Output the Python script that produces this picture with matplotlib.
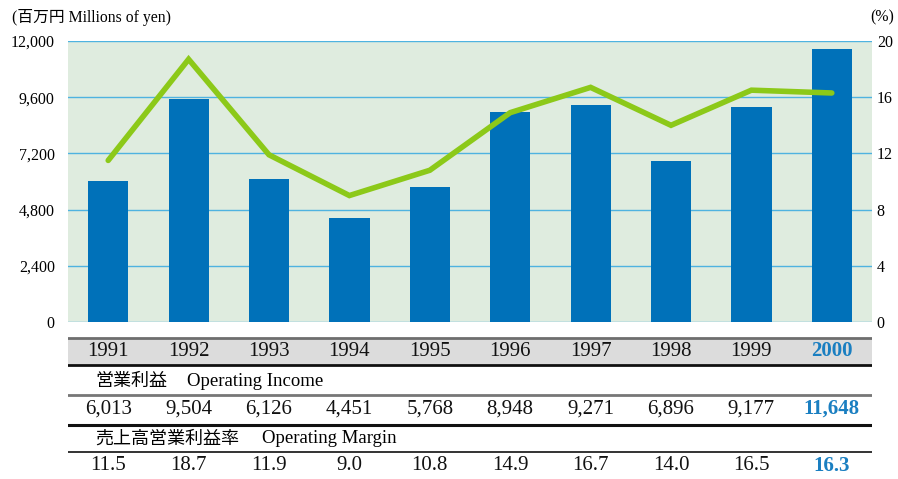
import numpy as np
import matplotlib
matplotlib.use("Agg")
import matplotlib.pyplot as plt

# data
years = ["1991", "1992", "1993", "1994", "1995", "1996", "1997", "1998", "1999", "2000"]
income = [6013, 9504, 6126, 4451, 5768, 8948, 9271, 6896, 9177, 11648]
margin = [11.5, 18.7, 11.9, 9.0, 10.8, 14.9, 16.7, 14.0, 16.5, 16.3]
left_ticks = [0, 2400, 4800, 7200, 9600, 12000]
right_ticks = [0, 4, 8, 12, 16, 20]

SERIF = ["Liberation Serif", "DejaVu Serif"]
CJK = ["Noto Sans CJK JP", "DejaVu Sans"]
MIX = ["Liberation Serif", "Noto Sans CJK JP"]

BLUE = "#0071b9"
GREEN = "#8cc919"
BG = "#dfecdf"
GRID = "#4fb3e0"
HL = "#1a7fc1"

W, H = 898, 479
fig = plt.figure(figsize=(W / 100, H / 100), dpi=100)

x0, x1 = 68, 872
y_top, y_bot = 41, 322
ax = fig.add_axes([x0 / W, 1 - y_bot / H, (x1 - x0) / W, (y_bot - y_top) / H])
ax.set_facecolor(BG)
x = np.arange(len(years))
ax.bar(x, income, width=0.5, color=BLUE, zorder=3)
ax.set_xlim(-0.5, len(years) - 0.5)
ax.set_ylim(0, 12000)
ax.set_yticks(left_ticks)
ax.set_yticklabels([f"{v:,}" for v in left_ticks], family=SERIF, fontsize=11.5)
ax.set_xticks([])
for v in left_ticks:
    ax.axhline(v, color=GRID, lw=1, zorder=1)
for s in ax.spines.values():
    s.set_visible(False)
ax.tick_params(axis="y", length=0, pad=9.5)

ax2 = ax.twinx()
ax2.plot(x, margin, color=GREEN, lw=4, solid_capstyle="round", solid_joinstyle="miter", zorder=5)
ax2.set_ylim(0, 20)
ax2.set_yticks(right_ticks)
ax2.set_yticklabels([str(v) for v in right_ticks], family=SERIF, fontsize=11.5)
ax2.tick_params(axis="y", length=0, pad=3.5)
for s in ax2.spines.values():
    s.set_visible(False)

fig.text(12 / W, 1 - 17 / H, "(百万円 Millions of yen)", family=MIX, fontsize=11.3, va="center", ha="left")
fig.text(894 / W, 1 - 17 / H, "(%)", family=SERIF, fontsize=11.3, va="center", ha="right")

# table below the chart, y in pixel coordinates
t = fig.add_axes([x0 / W, 0, (x1 - x0) / W, 1 - 330 / H])
t.set_xlim(-0.5, len(years) - 0.5)
t.set_ylim(H, 330)
t.axis("off")
t.axhspan(338, 365, color="#dcdcdc", zorder=0)
t.axhline(338, color="#6e6e6e", lw=2)
t.axhline(365, color="#111111", lw=2)
t.axhline(395, color="#777777", lw=2)
t.axhline(425.5, color="#111111", lw=2.2)
t.axhline(452, color="#111111", lw=1.2)

for i in range(len(years)):
    last = i == len(years) - 1
    c = HL if last else "#111111"
    w = "bold" if last else "normal"
    t.text(x[i], 351, years[i], family=SERIF, fontsize=15, ha="center", va="center", color=c, weight=w)
    t.text(x[i], 409, f"{income[i]:,}", family=SERIF, fontsize=15, ha="center", va="center", color=c, weight=w)
    t.text(x[i], 466, f"{margin[i]:.1f}", family=SERIF, fontsize=15, ha="center", va="center", color=c, weight=w)

t.text(-0.165, 381, "営業利益", family=CJK, fontsize=13, ha="left", va="center")
t.text(0.98, 381, "Operating Income", family=SERIF, fontsize=13.5, ha="left", va="center")
t.text(-0.165, 439, "売上高営業利益率", family=CJK, fontsize=13, ha="left", va="center")
t.text(1.91, 439, "Operating Margin", family=SERIF, fontsize=13.5, ha="left", va="center")

fig.savefig("out.png", dpi=100)
